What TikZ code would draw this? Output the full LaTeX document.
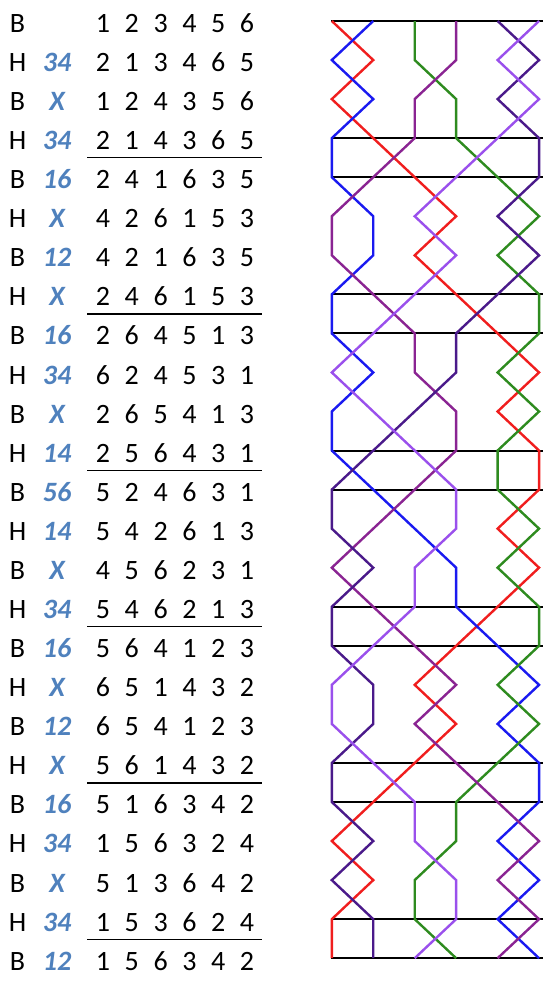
\documentclass[tikz,border=0pt]{standalone}
\usepackage{fontspec}
\setmainfont{Carlito}
\definecolor{pnblue}{HTML}{4F81BD}
\definecolor{bellA}{HTML}{F01E1E}
\definecolor{bellB}{HTML}{1A1AF0}
\definecolor{bellC}{HTML}{2E8B1F}
\definecolor{bellD}{HTML}{8A2492}
\definecolor{bellE}{HTML}{4A1A8A}
\definecolor{bellF}{HTML}{9A50EC}
\begin{document}
\begin{tikzpicture}[x=1bp,y=-1bp,
  lbl/.style={anchor=base,inner sep=0pt,font=\fontsize{28bp}{32bp}\selectfont},
  pn/.style={anchor=base,inner sep=0pt,text=pnblue,font=\fontsize{28bp}{32bp}\selectfont\bfseries\itshape},
  hline/.style={black,line width=2bp},
  uline/.style={black,line width=1.3bp},
  bl/.style={line width=2.4bp}]
\useasboundingbox (0,0) rectangle (554,981);
\foreach \r/\L/\N/\a/\b/\c/\d/\e/\f in {
  0/B//1/2/3/4/5/6,
  1/H/34/2/1/3/4/6/5,
  2/B/X/1/2/4/3/5/6,
  3/H/34/2/1/4/3/6/5,
  4/B/16/2/4/1/6/3/5,
  5/H/X/4/2/6/1/5/3,
  6/B/12/4/2/1/6/3/5,
  7/H/X/2/4/6/1/5/3,
  8/B/16/2/6/4/5/1/3,
  9/H/34/6/2/4/5/3/1,
  10/B/X/2/6/5/4/1/3,
  11/H/14/2/5/6/4/3/1,
  12/B/56/5/2/4/6/3/1,
  13/H/14/5/4/2/6/1/3,
  14/B/X/4/5/6/2/3/1,
  15/H/34/5/4/6/2/1/3,
  16/B/16/5/6/4/1/2/3,
  17/H/X/6/5/1/4/3/2,
  18/B/12/6/5/4/1/2/3,
  19/H/X/5/6/1/4/3/2,
  20/B/16/5/1/6/3/4/2,
  21/H/34/1/5/6/3/2/4,
  22/B/X/5/1/3/6/4/2,
  23/H/34/1/5/3/6/2/4,
  24/B/12/1/5/6/3/4/2} {
  \pgfmathsetmacro\ty{32.3+39.08*\r}
  \node[lbl] (L\r) at (17.5,\ty) {\L};
  \ifx\N\empty\else\node[pn] (N\r) at (57,\ty) {\N};\fi
  \foreach \bell [count=\p] in {\a,\b,\c,\d,\e,\f} {
    \node[lbl] (D\r-\p) at ({103+28.8*(\p-1)},\ty) {\bell};
    \coordinate (b\bell-\r) at ({331.8+41.45*(\p-1)},{21+39.05*\r});
  }
}
% table underlines
\foreach \k in {3,7,11,15,19,23} {
  \coordinate (ul\k) at (87,{24.5+39.08*\k+16});
  \coordinate (ur\k) at (262,{24.5+39.08*\k+16});
  \draw[uline] (ul\k) -- (ur\k);
}
% diagram horizontal lines
\foreach \r in {0,3,4,7,8,11,12,15,16,19,20,23,24} {
  \coordinate (hl\r) at (331,{21+39.05*\r});
  \coordinate (hr\r) at (543,{21+39.05*\r});
  \draw[hline] (hl\r) -- (hr\r);
}
% bell paths
\foreach \bell/\col in {1/bellA,2/bellB,3/bellC,4/bellD,5/bellE,6/bellF} {
  \draw[bl,\col] (b\bell-0) \foreach \r in {1,...,24} { -- (b\bell-\r) };
}
\end{tikzpicture}
\end{document}
